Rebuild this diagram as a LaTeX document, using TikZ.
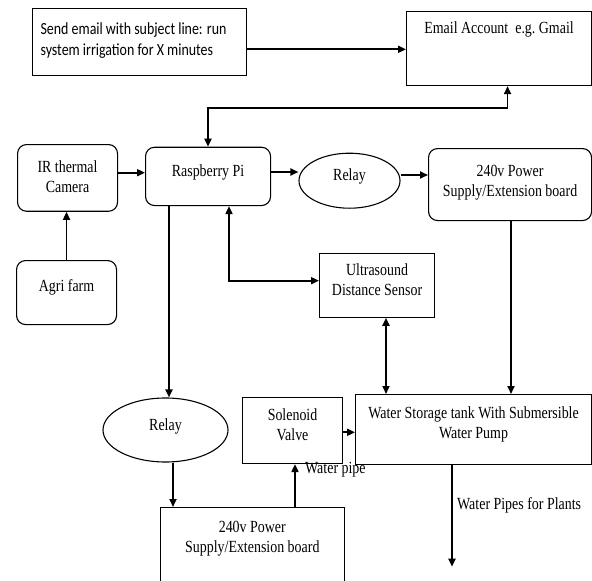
\documentclass[tikz,border=0pt]{standalone}
\usepackage{fontspec}
\setmainfont{Liberation Serif}[FakeStretch=0.82]
\newfontfamily\calib{Carlito}[FakeStretch=0.82]
\usetikzlibrary{arrows.meta,shapes.geometric}
\newcommand{\ctab}[1]{\begin{tabular}[t]{@{}c@{}}#1\end{tabular}}
\begin{document}
\begin{tikzpicture}[x=1pt,y=-1pt,
  font=\fontsize{17}{20}\selectfont,
  box/.style={draw, line width=1.1pt, inner ysep=0pt, inner xsep=0pt, anchor=north west},
  rbox/.style={box, rounded corners=9pt},
  oval/.style={draw, ellipse, line width=1.1pt, inner sep=0pt, text height=11pt, text depth=11pt},
  arr/.style={line width=1.8pt, -{Triangle[length=8pt,width=7pt]}},
  darr/.style={line width=1.8pt, {Triangle[length=8pt,width=7pt]}-{Triangle[length=8pt,width=7pt]}},
  lbl/.style={anchor=west, inner sep=0pt}]
\useasboundingbox (0,0) rectangle (592,581);
\clip (0,0) rectangle (592,581);

% boxes
\node[box, minimum width=214pt, text height=25.7pt, text depth=41pt, inner xsep=8pt,
      font=\calib\fontsize{17}{21}\selectfont] (send) at (32,8.3)
  {\begin{tabular}[t]{@{}p{198pt}@{}}Send email with subject line: run\\system irrigation for X minutes\end{tabular}};
\node[box, minimum width=185pt, text height=22.3pt, text depth=52pt] (email) at (406,10.7)
  {Email Account~ e.g.\ Gmail};
\node[rbox, minimum width=100pt, text height=28pt, text depth=38.7pt] (ir) at (17,144)
  {\ctab{IR thermal\\Camera}};
\node[rbox, minimum width=125pt, text height=29.3pt, text depth=29pt] (rpi) at (145,146.7)
  {Raspberry Pi};
\node[oval, minimum width=101pt, minimum height=55pt] (relay1) at (349.5,180.7) {Relay};
\node[rbox, minimum width=163pt, text height=28pt, text depth=44pt] (power1) at (428,148)
  {\ctab{240v Power\\Supply/Extension board}};
\node[rbox, minimum width=100pt, text height=31pt, text depth=33pt] (agri) at (16,260)
  {Agri farm};
\node[box, minimum width=115pt, text height=22.3pt, text depth=41.7pt] (ultra) at (319,252.7)
  {\ctab{Ultrasound\\Distance Sensor}};
\node[oval, minimum width=125pt, minimum height=64pt] (relay2) at (165.5,430) {Relay};
\node[box, minimum width=100pt, text height=23pt, text depth=43pt] (sol) at (242,397)
  {\ctab{Solenoid\\Valve}};
\node[box, minimum width=236pt, text height=23.7pt, text depth=46.6pt] (tank) at (355,394)
  {\ctab{Water Storage tank With Submersible\\Water Pump}};
\node[box, minimum width=183.5pt, text height=24.7pt, text depth=90pt] (power2) at (160,507)
  {\ctab{240v Power\\Supply/Extension board}};

% labels
\node[lbl] (wp) at (305,470) {Water pipe};
\node[lbl] (wpp) at (457,505) {Water Pipes for Plants};

% helper coordinates
\coordinate (c0) at (0,49.3);
\coordinate (c1) at (0,172.7);
\coordinate (c2) at (0,172);
\coordinate (c3) at (0,175);
\coordinate (c4) at (0,432.3);
\coordinate (b1) at (208,108.3);
\coordinate (k1) at (229,280.7);
\coordinate (k2) at (169,0);
\coordinate (k3) at (173,0);
\coordinate (k4) at (295,0);
\coordinate (k5) at (386,0);
\coordinate (k6) at (511,0);
\coordinate (out) at (452,566.7);

% connectors
\draw[arr] (send.east |- c0) -- (email.west |- c0);
\draw[darr] ([xshift=8.5pt]email.south) |- (b1) -- (b1 |- rpi.north);
\draw[arr] (ir.east |- c1) -- (rpi.west |- c1);
\draw[arr] (rpi.east |- c2) -- (relay1.west |- c2);
\draw[arr] (relay1.east |- c3) -- (power1.west |- c3);
\draw[arr] (agri.north) -- (agri.north |- ir.south);
\draw[darr] (rpi.south -| k1) -- (k1) -- (k1 -| ultra.west);
\draw[arr] (rpi.south -| k2) -- (k2 |- relay2.north);
\draw[arr] (relay2.south -| k3) -- (k3 |- power2.north);
\draw[arr] (power2.north -| k4) -- (k4 |- sol.south);
\draw[arr] (sol.east |- c4) -- (tank.west |- c4);
\draw[darr] (ultra.south -| k5) -- (k5 |- tank.north);
\draw[arr] (power1.south -| k6) -- (k6 |- tank.north);
\draw[arr] (tank.south -| out) -- (out);
\end{tikzpicture}
\end{document}
